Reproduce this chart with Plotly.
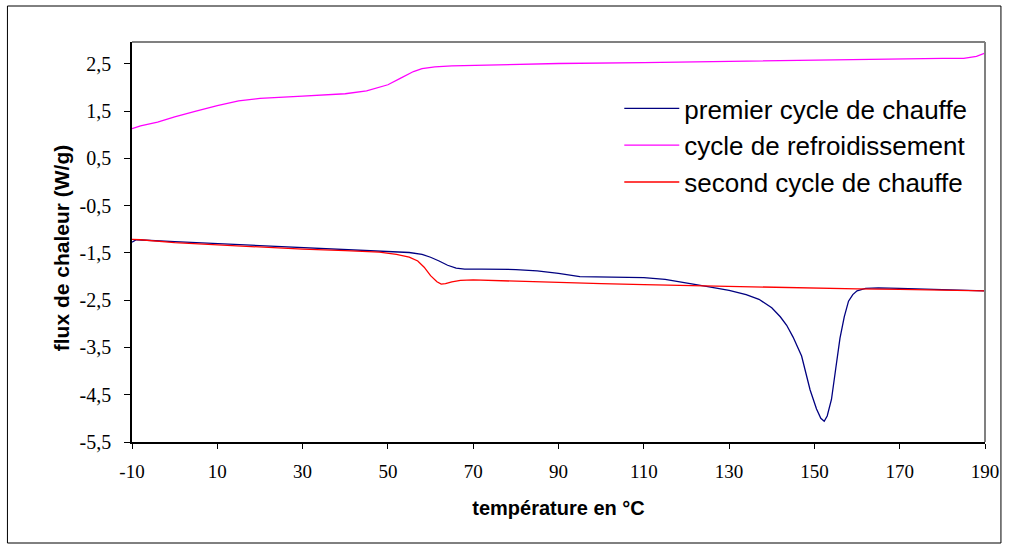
import plotly.graph_objects as go

# ---- data ----
cool_x = [-10, -8, -4, 0, 5, 10, 15, 20, 30, 40, 45, 50, 53, 56, 58, 61, 65, 70, 80, 90, 110, 130, 150, 170, 180, 185, 188, 190]
cool_y = [1.13, 1.19, 1.27, 1.38, 1.50, 1.62, 1.72, 1.77, 1.82, 1.87, 1.93, 2.06, 2.20, 2.34, 2.40, 2.44, 2.46, 2.47, 2.49, 2.51, 2.53, 2.56, 2.58, 2.61, 2.62, 2.62, 2.66, 2.73]

heat1_x = [-10, -9, 0, 10, 20, 30, 40, 50, 55, 58, 60, 62, 64, 66, 68, 72, 80, 85, 90, 95, 100, 105, 110, 115, 120, 125, 130, 134, 137, 140, 142, 143.5, 145, 147, 149, 150.5, 151.5, 152.3, 153, 154, 155, 156, 157, 158, 159, 160, 162, 165, 170, 180, 190]
heat1_y = [-1.27, -1.22, -1.26, -1.30, -1.34, -1.38, -1.42, -1.46, -1.49, -1.53, -1.59, -1.67, -1.76, -1.82, -1.84, -1.84, -1.85, -1.88, -1.93, -2.00, -2.01, -2.01, -2.02, -2.06, -2.13, -2.21, -2.29, -2.38, -2.48, -2.66, -2.85, -3.03, -3.28, -3.68, -4.40, -4.80, -5.00, -5.06, -4.95, -4.60, -3.95, -3.30, -2.85, -2.52, -2.38, -2.30, -2.25, -2.24, -2.25, -2.27, -2.30]

heat2_x = [-10, -8, 0, 10, 20, 30, 40, 48, 52, 55, 57, 58.5, 60, 61.5, 62.5, 63.5, 65, 67, 70, 80, 90, 100, 110, 120, 130, 140, 150, 160, 170, 180, 190]
heat2_y = [-1.21, -1.22, -1.28, -1.33, -1.38, -1.42, -1.45, -1.48, -1.53, -1.59, -1.67, -1.80, -1.98, -2.11, -2.16, -2.15, -2.11, -2.08, -2.07, -2.10, -2.13, -2.15, -2.17, -2.19, -2.21, -2.23, -2.25, -2.26, -2.27, -2.28, -2.30]

x_ticks = [-10, 10, 30, 50, 70, 90, 110, 130, 150, 170, 190]
x_labels = ["-10", "10", "30", "50", "70", "90", "110", "130", "150", "170", "190"]
y_ticks = [-5.5, -4.5, -3.5, -2.5, -1.5, -0.5, 0.5, 1.5, 2.5]
y_labels = ["-5,5", "-4,5", "-3,5", "-2,5", "-1,5", "-0,5", "0,5", "1,5", "2,5"]

names = ["premier cycle de chauffe", "cycle de refroidissement", "second cycle de chauffe"]
x_title = "température en °C"
y_title = "flux de chaleur (W/g)"

fig = go.Figure()
fig.add_trace(go.Scatter(x=heat1_x, y=heat1_y, mode="lines", name=names[0],
                         line=dict(color="#000080", width=1.3)))
fig.add_trace(go.Scatter(x=cool_x, y=cool_y, mode="lines", name=names[1],
                         line=dict(color="#FF00FF", width=1.3)))
fig.add_trace(go.Scatter(x=heat2_x, y=heat2_y, mode="lines", name=names[2],
                         line=dict(color="#FF0000", width=1.3)))

W, H = 1011, 549
L, R, T, B = 132, 23, 42, 107
pw, ph = W - L - R, H - T - B

def px(xp):
    return (xp - L) / pw

def py(yp):
    return 1 - (yp - T) / ph

fig.update_layout(
    width=W, height=H,
    margin=dict(l=L, r=R, t=T, b=B),
    paper_bgcolor="white", plot_bgcolor="white",
    showlegend=True,
    legend=dict(x=px(621), y=py(85), xanchor="left", yanchor="top",
                font=dict(family="Liberation Sans, Arial", size=26, color="black"),
                bgcolor="rgba(0,0,0,0)", tracegroupgap=0, itemwidth=55),
    xaxis=dict(range=[-10, 190], tickvals=x_ticks, ticktext=x_labels,
               showgrid=False, zeroline=False, showline=True, linecolor="black", linewidth=1.5,
               ticks="outside", ticklen=5, tickcolor="black", ticklabelstandoff=6,
               tickfont=dict(family="Liberation Serif", size=19, color="black"),
               title=dict(text="<b>" + x_title + "</b>", standoff=20,
                          font=dict(family="Liberation Sans, Arial", size=20, color="black"))),
    yaxis=dict(range=[-5.5, 2.965], tickvals=y_ticks, ticktext=y_labels,
               showgrid=False, zeroline=False, showline=True, linecolor="black", linewidth=1.5,
               ticks="outside", ticklen=6, tickcolor="black", ticklabelstandoff=9,
               tickfont=dict(family="Liberation Serif", size=20, color="black")),
    annotations=[
        dict(text="<b>" + y_title + "</b>", xref="paper", yref="paper",
             x=px(61), y=py(248), xanchor="center", yanchor="middle", textangle=-90,
             showarrow=False, font=dict(family="Liberation Sans, Arial", size=21, color="black")),
    ],
    shapes=[
        dict(type="line", xref="paper", yref="paper", x0=0, x1=1, y0=1, y1=1,
             line=dict(color="#808080", width=2)),
        dict(type="line", xref="paper", yref="paper", x0=1, x1=1, y0=0, y1=1,
             line=dict(color="#808080", width=2)),
        dict(type="rect", xref="paper", yref="paper", x0=px(7), x1=px(1004), y0=py(543), y1=py(6),
             line=dict(color="black", width=1), layer="below"),
    ],
)

fig.write_html("out.html")
